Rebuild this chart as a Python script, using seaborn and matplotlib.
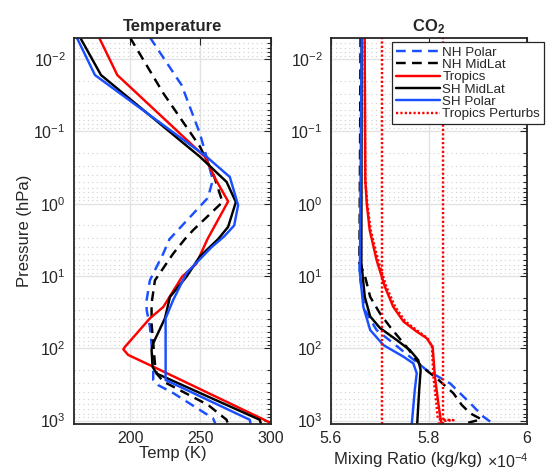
import matplotlib
matplotlib.use("Agg")
import matplotlib.pyplot as plt
from matplotlib.ticker import FixedLocator, LogLocator, NullFormatter
import seaborn as sns

# ---------------- data ----------------
names = ["NH Polar", "NH MidLat", "Tropics", "SH MidLat", "SH Polar"]

# Temperature profiles (pressure in hPa, temperature in K)
t_nhpolar_p = [0.005, 0.0229, 0.107, 0.224, 0.468, 0.83, 3.09, 4.9, 11.5, 21.5, 29.5, 50, 162, 275, 324, 417, 933, 1100]
t_nhpolar_v = [214, 236.6, 249.6, 254.3, 258.8, 255.3, 228, 223.5, 214, 211.7, 211.7, 214, 216.4, 216.4, 219.9, 230.6, 259, 260.5]

t_nhmid_p = [0.005, 0.0295, 0.162, 0.380, 0.95, 2.32, 3.09, 4.9, 11.5, 24, 45.3, 162, 224, 288, 610, 977, 1100]
t_nhmid_v = [199.8, 223.5, 249.6, 259, 265.7, 244.8, 238.9, 230.6, 217.6, 215.2, 215.2, 217.6, 218.8, 223.5, 255.5, 268.6, 269.5]

t_trop_p = [0.005, 0.0166, 0.224, 0.468, 0.93, 3.09, 6.8, 10.2, 26.9, 38.6, 95.5, 103.5, 124, 180, 1038, 1100]
t_trop_v = [177.8, 190.8, 253.1, 261, 269.7, 255, 247, 237, 223.5, 214, 196.3, 195.1, 198.6, 216.4, 298.2, 299]

t_shmid_p = [0.005, 0.0166, 0.224, 0.50, 0.95, 2.09, 3.09, 5.37, 10.2, 19.5, 38.6, 85.1, 104.7, 180, 224, 977, 1100]
t_shmid_v = [164.3, 179.2, 249.6, 268.6, 275.2, 269.7, 262.6, 249.6, 240.1, 228.3, 224.7, 216.4, 215.2, 215.9, 218.8, 292.2, 293]

t_shpolar_p = [0.005, 0.0166, 0.224, 0.427, 1.05, 2.0, 2.82, 3.98, 9.1, 21.5, 38.6, 275, 977, 1100]
t_shpolar_v = [161.9, 174.9, 254.3, 270.9, 276.8, 274, 267, 258, 240.1, 230.6, 225.2, 225.2, 285.1, 285.6]

# CO2 mixing ratio profiles (pressure in hPa, mixing ratio in units of 1e-4 kg/kg)
c_nhpolar_p = [0.005, 3.2, 9.1, 29.5, 56, 85.1, 131, 200, 306, 575, 885, 1072]
c_nhpolar_v = [5.6606, 5.660, 5.658, 5.669, 5.693, 5.727, 5.761, 5.795, 5.843, 5.884, 5.911, 5.928]

c_nhmid_p = [0.005, 6.6, 9.8, 19.5, 33, 50.1, 95.5, 180, 261, 421, 610, 794, 962, 1072]
c_nhmid_v = [5.6606, 5.658, 5.669, 5.680, 5.700, 5.720, 5.754, 5.785, 5.816, 5.850, 5.867, 5.884, 5.907, 5.880]

c_trop_p = [0.005, 0.468, 1.0, 2.32, 6.0, 14.1, 26.7, 42.7, 58.9, 72.4, 95.5, 245, 575, 977, 1096]
c_trop_v = [5.6687, 5.670, 5.673, 5.679, 5.693, 5.710, 5.727, 5.748, 5.775, 5.795, 5.8075, 5.812, 5.819, 5.824, 5.826]

c_shmid_p = [0.005, 6.6, 19.5, 36.3, 52.5, 76.9, 106, 145.5, 200, 378, 1096]
c_shmid_v = [5.6626, 5.662, 5.669, 5.680, 5.700, 5.734, 5.761, 5.778, 5.783, 5.780, 5.776]

c_shpolar_p = [0.005, 9.1, 26.7, 56, 90.4, 131, 162, 222, 378, 1096]
c_shpolar_v = [5.6626, 5.659, 5.666, 5.680, 5.707, 5.748, 5.768, 5.775, 5.771, 5.765]

# Tropics perturbations
c_pert_mid_p = [0.005, 0.468, 1.0, 2.32, 6.0, 14.1, 26.7, 42.7, 58.9, 72.4, 95.5, 245, 575, 955, 989, 1023, 1096]
c_pert_mid_v = [5.6687, 5.670, 5.674, 5.681, 5.696, 5.713, 5.731, 5.752, 5.779, 5.797, 5.806, 5.809, 5.815, 5.818, 5.85, 5.82, 5.82]
c_pert_low_p = [0.005, 1100]
c_pert_low_v = [5.705, 5.705]
c_pert_high_p = [0.005, 1100]
c_pert_high_v = [5.828, 5.828]

temp_ticks = [200, 250, 300]
temp_ticklabels = ["200", "250", "300"]
co2_ticks = [5.6, 5.8, 6.0]
co2_ticklabels = ["5.6", "5.8", "6"]
p_ticks = [1e-2, 1e-1, 1e0, 1e1, 1e2, 1e3]

# ---------------- style ----------------
sns.set_style("white")
plt.rcParams["font.family"] = ["Liberation Sans", "DejaVu Sans"]
plt.rcParams["mathtext.fontset"] = "custom"
plt.rcParams["mathtext.rm"] = "Liberation Sans"
plt.rcParams["mathtext.it"] = "Liberation Sans:italic"
plt.rcParams["mathtext.bf"] = "Liberation Sans:bold"

DARK = "#262626"
BLUE = "#1a4fff"
RED = "#ff0000"
BLACK = "#000000"
DASH = (0, (4.0, 2.6))
DOT = (0, (0.9, 0.9))
LW = 1.75

fig = plt.figure(figsize=(5.47, 4.72), dpi=100)
ax1 = fig.add_axes([0.1353, 0.1023, 0.3596, 0.8172])
ax2 = fig.add_axes([0.6051, 0.1023, 0.3583, 0.8172])

for ax in (ax1, ax2):
    ax.set_yscale("log")

common = dict(orient="y", estimator=None, sort=False, linewidth=LW)

# Temperature panel
sns.lineplot(x=t_nhpolar_v, y=t_nhpolar_p, ax=ax1, color=BLUE, linestyle=DASH, **common)
sns.lineplot(x=t_nhmid_v, y=t_nhmid_p, ax=ax1, color=BLACK, linestyle=DASH, **common)
sns.lineplot(x=t_trop_v, y=t_trop_p, ax=ax1, color=RED, **common)
sns.lineplot(x=t_shmid_v, y=t_shmid_p, ax=ax1, color=BLACK, **common)
sns.lineplot(x=t_shpolar_v, y=t_shpolar_p, ax=ax1, color=BLUE, **common)

# CO2 panel
sns.lineplot(x=c_nhpolar_v, y=c_nhpolar_p, ax=ax2, color=BLUE, linestyle=DASH, **common)
sns.lineplot(x=c_nhmid_v, y=c_nhmid_p, ax=ax2, color=BLACK, linestyle=DASH, **common)
sns.lineplot(x=c_trop_v, y=c_trop_p, ax=ax2, color=RED, **common)
sns.lineplot(x=c_shmid_v, y=c_shmid_p, ax=ax2, color=BLACK, **common)
sns.lineplot(x=c_shpolar_v, y=c_shpolar_p, ax=ax2, color=BLUE, **common)
sns.lineplot(x=c_pert_mid_v, y=c_pert_mid_p, ax=ax2, color=RED, linestyle=DOT, **common)
sns.lineplot(x=c_pert_low_v, y=c_pert_low_p, ax=ax2, color=RED, linestyle=DOT, **common)
sns.lineplot(x=c_pert_high_v, y=c_pert_high_p, ax=ax2, color=RED, linestyle=DOT, **common)

lines2 = ax2.get_lines()
handles = lines2[:6]
labels = names + ["Tropics Perturbs"]

for ax in (ax1, ax2):
    ax.set_ylim(1107, 0.0051)
    ax.yaxis.set_major_locator(FixedLocator(p_ticks))
    ax.yaxis.set_minor_locator(LogLocator(base=10, subs=range(2, 10), numticks=20))
    ax.yaxis.set_minor_formatter(NullFormatter())
    ax.tick_params(which="both", direction="in", top=True, right=True, colors=DARK,
                   labelsize=11.5, width=0.8)
    ax.tick_params(which="major", length=5)
    ax.tick_params(which="minor", length=3)
    ax.tick_params(axis="y", pad=6)
    ax.tick_params(axis="x", pad=5)
    ax.grid(True, which="major", axis="both", color="#e3e3e3", linewidth=1.0, linestyle="-")
    ax.grid(True, which="minor", axis="y", color="#cfcfcf", linewidth=0.8, linestyle=(0, (1, 3)))
    ax.set_axisbelow(True)
    for s in ax.spines.values():
        s.set_color(DARK)
        s.set_linewidth(1.3)

ax1.set_xlim(160, 300)
ax1.set_xticks(temp_ticks)
ax1.set_xticklabels(temp_ticklabels)
ax2.set_xlim(5.6, 6.0)
ax2.set_xticks(co2_ticks)
ax2.set_xticklabels(co2_ticklabels)

ax1.set_title("Temperature", fontsize=12, fontweight="bold", pad=5)
ax2.set_title(r"CO$_\mathbf{2}$", fontsize=12, fontweight="bold", pad=5)

ax1.set_xlabel("Temp (K)", fontsize=12, color=DARK, va="center")
ax1.xaxis.set_label_coords(0.5, -0.076)
ax1.set_ylabel("Pressure (hPa)", fontsize=12, color=DARK, va="center")
ax1.yaxis.set_label_coords(-0.252, 0.5)
ax2.set_xlabel("Mixing Ratio (kg/kg)", fontsize=12, color=DARK, va="center")
ax2.xaxis.set_label_coords(0.393, -0.094)
ax2.text(0.796, -0.099, r"$\times$10$^{-4}$", transform=ax2.transAxes, fontsize=11.5,
         color=DARK, ha="left", va="center")

leg = ax2.legend(handles, labels, loc="upper left", bbox_to_anchor=(0.3128, 0.9889),
                 borderaxespad=0, fontsize=9.6, frameon=True, fancybox=False,
                 framealpha=1, edgecolor=DARK, handlelength=3.3, handletextpad=0.15,
                 labelspacing=0.0, borderpad=0.3)
leg.get_frame().set_linewidth(0.9)

fig.savefig("out.png", dpi=100)
